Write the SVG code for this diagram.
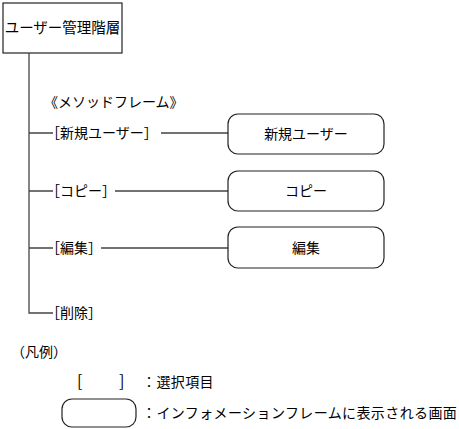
<svg xmlns="http://www.w3.org/2000/svg" width="459" height="429" viewBox="0 0 459 429">
<style>
text{font-family:"Noto Sans CJK JP","Liberation Sans",sans-serif;font-size:14px;fill:#000}
.c{text-anchor:middle}
.ln{stroke:#444;stroke-width:1.3;fill:none}
.frame{fill:#fff;stroke:#222;stroke-width:1.2}
.sp{letter-spacing:0.4px}
</style>
<rect width="459" height="429" fill="#fff"/>
<g id="root">
<rect class="frame" x="3" y="3" width="119" height="50"/>
<text class="c" x="62.5" y="33" style="font-size:14.5px">ユーザー管理階層</text>
</g>
<g id="connectors">
<path class="ln" d="M29 53V313H53"/>
<path class="ln" d="M29 133H53M161 133H229"/>
<path class="ln" d="M29 191H53M115 191H229"/>
<path class="ln" d="M29 248H53M101 248H229"/>
</g>
<g id="method-label"><text x="44" y="107">《メソッドフレーム》</text></g>
<g id="sel-new"><text x="46" y="138">［新規ユーザー］</text></g>
<g id="sel-copy"><text x="46" y="196">［コピー］</text></g>
<g id="sel-edit"><text x="46" y="253">［編集］</text></g>
<g id="sel-delete"><text x="46" y="318">［削除］</text></g>
<g id="frame-new">
<rect class="frame" x="228" y="114" width="156" height="40" rx="10"/>
<text class="c" x="306" y="139">新規ユーザー</text>
</g>
<g id="frame-copy">
<rect class="frame" x="228" y="171" width="156" height="40" rx="10"/>
<text class="c" x="306" y="196">コピー</text>
</g>
<g id="frame-edit">
<rect class="frame" x="228" y="227" width="156" height="41" rx="10"/>
<text class="c" x="306" y="253">編集</text>
</g>
<g id="legend">
<text x="11" y="357">（凡例）</text>
<text x="77" y="387" style="font-size:16px">[</text>
<text x="119" y="387" style="font-size:16px">]</text>
<text class="sp" x="142" y="387">：選択項目</text>
<rect class="frame" x="62" y="399" width="74" height="28" rx="10"/>
<text class="sp" x="142" y="418">：インフォメーションフレームに表示される画面</text>
</g>
</svg>
